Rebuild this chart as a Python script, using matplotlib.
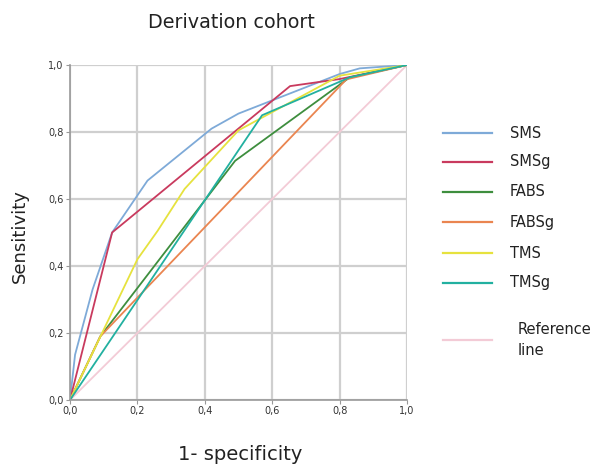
import matplotlib
matplotlib.use("Agg")
import matplotlib.pyplot as plt
from matplotlib.lines import Line2D

# Data
sms_x = [0, 0.015, 0.067, 0.125, 0.23, 0.42, 0.5, 0.8, 0.86, 1.0]
sms_y = [0, 0.135, 0.33, 0.50, 0.655, 0.81, 0.855, 0.973, 0.99, 1.0]
smsg_x = [0, 0.125, 0.653, 0.8, 1.0]
smsg_y = [0, 0.50, 0.937, 0.958, 1.0]
fabs_x = [0, 0.09, 0.49, 0.83, 1.0]
fabs_y = [0, 0.19, 0.714, 0.963, 1.0]
fabsg_x = [0, 0.09, 0.82, 1.0]
fabsg_y = [0, 0.19, 0.957, 1.0]
tms_x = [0, 0.1, 0.2, 0.26, 0.34, 0.5, 0.8, 1.0]
tms_y = [0, 0.21, 0.42, 0.505, 0.63, 0.805, 0.968, 1.0]
tmsg_x = [0, 0.57, 0.83, 1.0]
tmsg_y = [0, 0.85, 0.963, 1.0]
ref_x = [0, 1.0]
ref_y = [0, 1.0]

labels = ["SMS", "SMSg", "FABS", "FABSg", "TMS", "TMSg", "Reference\nline"]
colors = ["#7eaad8", "#c93a5e", "#3e8e3e", "#ea8550", "#e6e23e", "#22b0a0", "#f3cbd6"]
series = [(sms_x, sms_y), (smsg_x, smsg_y), (fabs_x, fabs_y), (fabsg_x, fabsg_y),
          (tms_x, tms_y), (tmsg_x, tmsg_y), (ref_x, ref_y)]

fig = plt.figure(figsize=(5.97, 4.66), dpi=100)
ax = fig.add_axes([70/597, 66/466, 337/597, 335/466])

ticks = [0, 0.2, 0.4, 0.6, 0.8, 1.0]
ticklabels = ["0,0", "0,2", "0,4", "0,6", "0,8", "1,0"]
for t in ticks:
    ax.axhline(t, color="#cfcfcf", lw=1.6, zorder=0)
    ax.axvline(t, color="#cfcfcf", lw=1.6, zorder=0)

# Draw reference first so it sits under the curves
order = [6, 0, 1, 2, 3, 4, 5]
for i in order:
    x, y = series[i]
    ax.plot(x, y, color=colors[i], lw=1.3, zorder=2)

ax.set_xlim(0, 1)
ax.set_ylim(0, 1)
ax.set_xticks(ticks)
ax.set_yticks(ticks)
ax.set_xticklabels(ticklabels, fontsize=7, color="#333333")
ax.set_yticklabels(ticklabels, fontsize=7, color="#333333")
ax.tick_params(length=3, width=0.8, color="#999999", pad=1.5)
for s in ["top", "right"]:
    ax.spines[s].set_visible(False)
for s in ["left", "bottom"]:
    ax.spines[s].set_color("#9a9a9a")
    ax.spines[s].set_linewidth(1.2)

fig.text(231/597, 1 - 22/466, "Derivation cohort", ha="center", va="center", fontsize=13.8, color="#222222")
fig.text(240/597, 1 - 455/466, "1- specificity", ha="center", va="center", fontsize=14, color="#222222")
fig.text(20/597, 1 - 236/466, "Sensitivity", ha="center", va="center", rotation=90, fontsize=13, color="#222222")

# Manual legend
rows_y = [133, 162, 192, 222, 253, 283, 340]
for i, yy in enumerate(rows_y):
    fy = 1 - yy / 466
    fig.add_artist(Line2D([443/597, 492/597], [fy, fy], color=colors[i], lw=1.6, transform=fig.transFigure))
    tx = 518/597 if i == 6 else 510/597
    fig.text(tx, fy, labels[i], ha="left", va="center", fontsize=10.5, color="#222222", linespacing=1.5)

fig.savefig("out.png", dpi=100)
